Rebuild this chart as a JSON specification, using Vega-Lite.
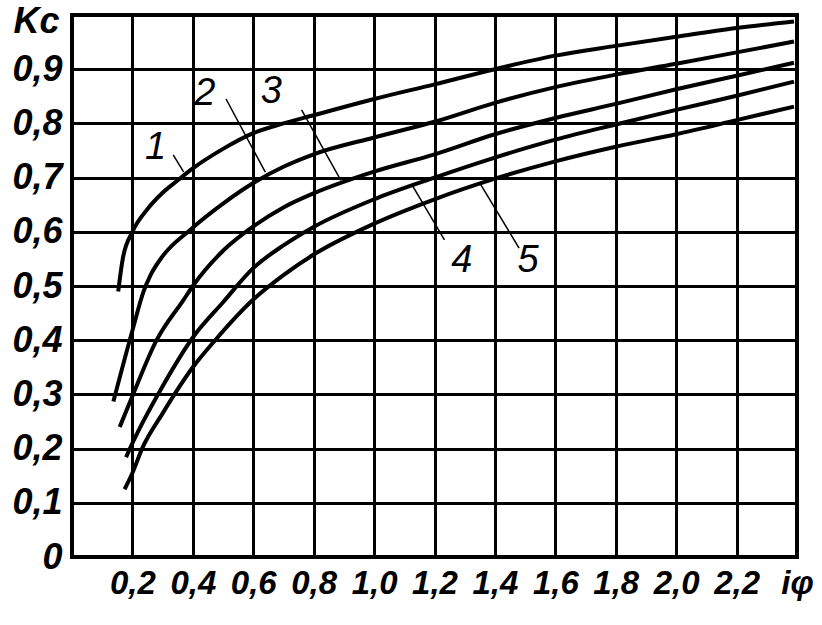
{
  "$schema": "https://vega.github.io/schema/vega-lite/v6.json",
  "width": 725,
  "height": 542,
  "autosize": "none",
  "padding": {"left": 72, "top": 15, "right": 25, "bottom": 68},
  "background": "white",
  "config": {
    "view": {"stroke": "black", "strokeWidth": 4},
    "axis": {
      "grid": true,
      "gridColor": "black",
      "gridOpacity": 1,
      "gridWidth": 3,
      "domain": false,
      "ticks": false,
      "labelFont": "Liberation Sans",
      "labelFontStyle": "italic",
      "labelFontWeight": "bold",
      "labelColor": "black",
      "labelFlush": false,
      "labelOverlap": false,
      "labelBound": false
    }
  },
  "datasets": {
    "curves": [
      {"c": "1", "x": 0.153, "y": 0.49},
      {"c": "1", "x": 0.168, "y": 0.55},
      {"c": "1", "x": 0.2, "y": 0.6},
      {"c": "1", "x": 0.25, "y": 0.642},
      {"c": "1", "x": 0.3, "y": 0.672},
      {"c": "1", "x": 0.35, "y": 0.695},
      {"c": "1", "x": 0.4, "y": 0.717},
      {"c": "1", "x": 0.5, "y": 0.753},
      {"c": "1", "x": 0.6, "y": 0.782},
      {"c": "1", "x": 0.7, "y": 0.8},
      {"c": "1", "x": 0.8, "y": 0.815},
      {"c": "1", "x": 1.0, "y": 0.845},
      {"c": "1", "x": 1.2, "y": 0.872},
      {"c": "1", "x": 1.4, "y": 0.9},
      {"c": "1", "x": 1.6, "y": 0.925},
      {"c": "1", "x": 1.8, "y": 0.943},
      {"c": "1", "x": 2.0, "y": 0.96},
      {"c": "1", "x": 2.2, "y": 0.976},
      {"c": "1", "x": 2.39, "y": 0.988},
      {"c": "2", "x": 0.137, "y": 0.287},
      {"c": "2", "x": 0.2, "y": 0.418},
      {"c": "2", "x": 0.237, "y": 0.49},
      {"c": "2", "x": 0.26, "y": 0.52},
      {"c": "2", "x": 0.3, "y": 0.555},
      {"c": "2", "x": 0.39, "y": 0.603},
      {"c": "2", "x": 0.5, "y": 0.652},
      {"c": "2", "x": 0.6, "y": 0.69},
      {"c": "2", "x": 0.7, "y": 0.72},
      {"c": "2", "x": 0.8, "y": 0.743},
      {"c": "2", "x": 1.0, "y": 0.774},
      {"c": "2", "x": 1.2, "y": 0.803},
      {"c": "2", "x": 1.4, "y": 0.838},
      {"c": "2", "x": 1.6, "y": 0.867},
      {"c": "2", "x": 1.8, "y": 0.89},
      {"c": "2", "x": 2.0, "y": 0.91},
      {"c": "2", "x": 2.2, "y": 0.931},
      {"c": "2", "x": 2.39, "y": 0.951},
      {"c": "3", "x": 0.158, "y": 0.24},
      {"c": "3", "x": 0.2, "y": 0.297},
      {"c": "3", "x": 0.28, "y": 0.4},
      {"c": "3", "x": 0.37, "y": 0.475},
      {"c": "3", "x": 0.4, "y": 0.5},
      {"c": "3", "x": 0.5, "y": 0.565},
      {"c": "3", "x": 0.6, "y": 0.61},
      {"c": "3", "x": 0.7, "y": 0.645},
      {"c": "3", "x": 0.8, "y": 0.671},
      {"c": "3", "x": 1.0, "y": 0.711},
      {"c": "3", "x": 1.2, "y": 0.743},
      {"c": "3", "x": 1.4, "y": 0.78},
      {"c": "3", "x": 1.6, "y": 0.81},
      {"c": "3", "x": 1.8, "y": 0.836},
      {"c": "3", "x": 2.0, "y": 0.863},
      {"c": "3", "x": 2.2, "y": 0.888},
      {"c": "3", "x": 2.39, "y": 0.912},
      {"c": "4", "x": 0.179, "y": 0.184},
      {"c": "4", "x": 0.2, "y": 0.21},
      {"c": "4", "x": 0.3, "y": 0.315},
      {"c": "4", "x": 0.4, "y": 0.405},
      {"c": "4", "x": 0.5, "y": 0.47},
      {"c": "4", "x": 0.6, "y": 0.533},
      {"c": "4", "x": 0.7, "y": 0.575},
      {"c": "4", "x": 0.8, "y": 0.609},
      {"c": "4", "x": 1.0, "y": 0.66},
      {"c": "4", "x": 1.2, "y": 0.7},
      {"c": "4", "x": 1.4, "y": 0.737},
      {"c": "4", "x": 1.6, "y": 0.77},
      {"c": "4", "x": 1.8, "y": 0.798},
      {"c": "4", "x": 2.0, "y": 0.825},
      {"c": "4", "x": 2.2, "y": 0.851},
      {"c": "4", "x": 2.39, "y": 0.877},
      {"c": "5", "x": 0.174, "y": 0.125},
      {"c": "5", "x": 0.2, "y": 0.155},
      {"c": "5", "x": 0.232, "y": 0.2},
      {"c": "5", "x": 0.3, "y": 0.265},
      {"c": "5", "x": 0.4, "y": 0.35},
      {"c": "5", "x": 0.474, "y": 0.4},
      {"c": "5", "x": 0.6, "y": 0.475},
      {"c": "5", "x": 0.7, "y": 0.52},
      {"c": "5", "x": 0.8, "y": 0.558},
      {"c": "5", "x": 1.0, "y": 0.615},
      {"c": "5", "x": 1.2, "y": 0.66},
      {"c": "5", "x": 1.4, "y": 0.698},
      {"c": "5", "x": 1.6, "y": 0.73},
      {"c": "5", "x": 1.8, "y": 0.757},
      {"c": "5", "x": 2.0, "y": 0.78},
      {"c": "5", "x": 2.2, "y": 0.806},
      {"c": "5", "x": 2.39, "y": 0.831}
    ],
    "leaders": [
      {"c": "1", "x1": 0.335, "y1": 0.742, "x2": 0.37, "y2": 0.71},
      {"c": "2", "x1": 0.51, "y1": 0.845, "x2": 0.64, "y2": 0.71},
      {"c": "3", "x1": 0.76, "y1": 0.825, "x2": 0.89, "y2": 0.695},
      {"c": "4", "x1": 1.127, "y1": 0.685, "x2": 1.233, "y2": 0.585},
      {"c": "5", "x1": 1.35, "y1": 0.69, "x2": 1.48, "y2": 0.57}
    ],
    "labels": [
      {"c": "1", "x": 0.277, "y": 0.755},
      {"c": "2", "x": 0.44, "y": 0.855},
      {"c": "3", "x": 0.66, "y": 0.858},
      {"c": "4", "x": 1.29, "y": 0.547},
      {"c": "5", "x": 1.51, "y": 0.547}
    ]
  },
  "layer": [
    {
      "data": {"name": "curves"},
      "mark": {"type": "line", "color": "black", "strokeWidth": 4, "interpolate": "monotone"},
      "encoding": {
        "x": {
          "field": "x", "type": "quantitative",
          "scale": {"domain": [0, 2.4], "nice": false, "zero": false},
          "axis": {
            "title": null,
            "values": [0.2, 0.4, 0.6, 0.8, 1.0, 1.2, 1.4, 1.6, 1.8, 2.0, 2.2, 2.4],
            "labelExpr": "datum.value > 2.35 ? 'iφ' : replace(format(datum.value, '.1f'), '.', ',')",
            "labelFontSize": 33,
            "labelPadding": 10
          }
        },
        "y": {
          "field": "y", "type": "quantitative",
          "scale": {"domain": [0, 1], "nice": false},
          "axis": {
            "values": [0, 0.1, 0.2, 0.3, 0.4, 0.5, 0.6, 0.7, 0.8, 0.9, 1.0],
            "labelExpr": "datum.value > 0.95 ? '' : (datum.value == 0 ? '0' : replace(format(datum.value, '.1f'), '.', ','))",
            "labelFontSize": 36,
            "labelPadding": 10,
            "title": "Kc",
            "titleAngle": 0,
            "titleX": -36,
            "titleY": 6,
            "titleAlign": "center",
            "titleBaseline": "middle",
            "titleFont": "Liberation Sans",
            "titleFontStyle": "italic",
            "titleFontWeight": "bold",
            "titleFontSize": 36,
            "titleColor": "black"
          }
        },
        "detail": {"field": "c"}
      }
    },
    {
      "data": {"name": "leaders"},
      "mark": {"type": "rule", "color": "black", "strokeWidth": 1.5},
      "encoding": {
        "x": {"field": "x1", "type": "quantitative"},
        "y": {"field": "y1", "type": "quantitative"},
        "x2": {"field": "x2"},
        "y2": {"field": "y2"}
      }
    },
    {
      "data": {"name": "labels"},
      "mark": {"type": "text", "font": "Liberation Sans", "fontStyle": "italic", "fontSize": 38, "color": "black", "baseline": "middle", "align": "center"},
      "encoding": {
        "x": {"field": "x", "type": "quantitative"},
        "y": {"field": "y", "type": "quantitative"},
        "text": {"field": "c"}
      }
    }
  ]
}
